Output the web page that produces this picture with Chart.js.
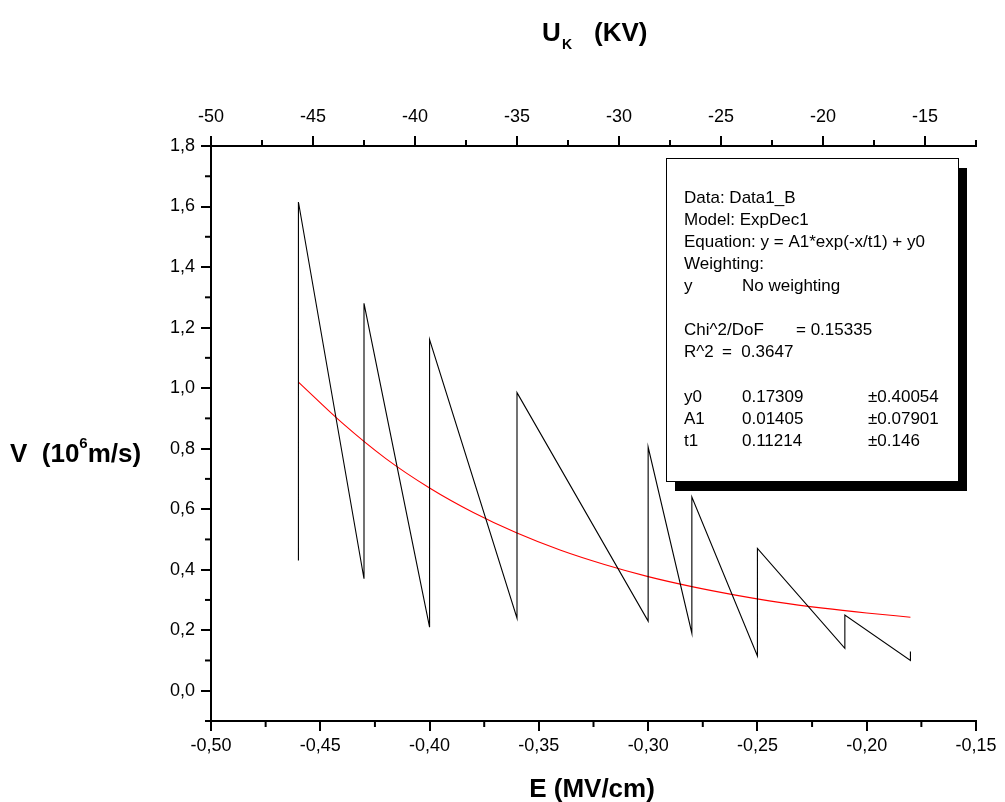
<!DOCTYPE html>
<html>
<head>
<meta charset="utf-8">
<script src="https://cdn.jsdelivr.net/npm/chart.js@4.4.0/dist/chart.umd.min.js"></script>
<style>
  html, body { margin: 0; padding: 0; background: #fff; }
  #wrap { width: 1005px; height: 802px; }
</style>
</head>
<body>
<div id="wrap"><canvas id="chart" width="1005" height="802"></canvas></div>
<script>
const fieldE = [-0.46, -0.46, -0.43, -0.43, -0.40, -0.40, -0.36, -0.36, -0.30, -0.30,
                -0.28, -0.28, -0.25, -0.25, -0.21, -0.21, -0.18, -0.18];
const speedV = [0.43, 1.615, 0.37, 1.28, 0.21, 1.16, 0.24, 0.985, 0.23, 0.805,
                0.19, 0.64, 0.115, 0.47, 0.14, 0.25, 0.10, 0.13];

// --- red fit curve ---
const fitE = [-0.46, -0.44, -0.42, -0.40, -0.38, -0.36, -0.34, -0.32, -0.30, -0.28,
              -0.26, -0.24, -0.22, -0.20, -0.18];
const fitV = [1.02, 0.885, 0.767, 0.67, 0.589, 0.521, 0.464, 0.417, 0.377, 0.344,
              0.316, 0.292, 0.273, 0.257, 0.243];

// --- axis ticks ---
const eTicks = [-0.50, -0.45, -0.40, -0.35, -0.30, -0.25, -0.20, -0.15];
const uTicks = [-50, -45, -40, -35, -30, -25, -20, -15];
const vTicks = [0, 0.2, 0.4, 0.6, 0.8, 1.0, 1.2, 1.4, 1.6, 1.8];

// --- fit report text ---
const reportRows = [
    ['Data: Data1_B'],
    ['Model: ExpDec1'],
    ['Equation: y = A1*exp(-x/t1) + y0'],
    ['Weighting:'],
    ['y', 'No weighting'],
    [],
    ['Chi^2/DoF', '= 0.15335'],
    ['R^2', '=  0.3647'],
    [],
    ['y0', '0.17309', '±0.40054'],
    ['A1', '0.01405', '±0.07901'],
    ['t1', '0.11214', '±0.146']
];

const FONT = "'Liberation Sans', Arial, sans-serif";
const comma = (v, d) => v.toFixed(d).replace('.', ',');

const pts = (xs, ys) => xs.map((x, i) => ({ x: x, y: ys[i] }));
const useTicks = arr => scale => { scale.ticks = arr.map(v => ({ value: v })); };

// minor ticks + titles + fit box
const extras = {
    id: 'extras',
    afterDraw(chart) {
        const c = chart.ctx;
        const { x, x2, y } = chart.scales;
        const area = chart.chartArea;

        // minor ticks between the major ones
        c.save();
        c.strokeStyle = '#000';
        c.lineWidth = 2;
        const minor = (arr, scale, draw) => {
            const step = arr[1] - arr[0];
            for (let v = arr[0] - step / 2; v <= scale.max + 1e-9; v += step) {
                if (v < scale.min - 1e-9) continue;
                draw(scale.getPixelForValue(v));
            }
        };
        minor(eTicks, x, px => { c.beginPath(); c.moveTo(px, area.bottom); c.lineTo(px, area.bottom + 6); c.stroke(); });
        minor(uTicks, x2, px => { c.beginPath(); c.moveTo(px, area.top); c.lineTo(px, area.top - 6); c.stroke(); });
        minor(vTicks, y, py => { c.beginPath(); c.moveTo(area.left, py); c.lineTo(area.left - 6, py); c.stroke(); });
        c.restore();

        // axis titles
        c.save();
        c.fillStyle = '#000';
        c.textBaseline = 'alphabetic';
        c.font = 'bold 26px ' + FONT;
        c.textAlign = 'center';
        c.fillText('E (MV/cm)', 592, 797);

        c.textAlign = 'left';
        c.fillText('U', 542, 41);
        c.font = 'bold 14px ' + FONT;
        c.fillText('K', 562, 49);
        c.font = 'bold 26px ' + FONT;
        c.fillText('(KV)', 594, 41);

        c.fillText('V  (10', 10, 462);
        let w = c.measureText('V  (10').width;
        c.font = 'bold 15px ' + FONT;
        c.fillText('6', 10 + w, 448);
        let w6 = c.measureText('6').width;
        c.font = 'bold 26px ' + FONT;
        c.fillText('m/s)', 10 + w + w6, 462);
        c.restore();

        // fit report box with shadow
        c.save();
        c.fillStyle = '#000';
        c.fillRect(675, 168, 292, 323);
        c.fillStyle = '#fff';
        c.fillRect(666, 158, 292, 323);
        c.strokeStyle = '#000';
        c.lineWidth = 1;
        c.strokeRect(666.5, 158.5, 292, 323);
        c.fillStyle = '#000';
        c.font = '17px ' + FONT;
        c.textBaseline = 'middle';
        c.textAlign = 'left';
        reportRows.forEach((row, i) => {
            const ty = 198 + i * 22.1;
            if (row[0]) c.fillText(row[0], 684, ty);
            if (row[1]) {
                const cx = row[0] === 'Chi^2/DoF' ? 796 : (row[0] === 'R^2' ? 722 : 742);
                c.fillText(row[1], cx, ty);
            }
            if (row[2]) c.fillText(row[2], 868, ty);
        });
        c.restore();
    }
};

const axisStyle = {
    border: { display: true, color: '#000', width: 2 },
    grid: { display: true, drawOnChartArea: false, drawTicks: true, tickLength: 10, color: '#000', lineWidth: 2 }
};

new Chart(document.getElementById('chart'), {
    type: 'scatter',
    data: {
        datasets: [
            {
                label: 'V',
                data: pts(fieldE, speedV),
                showLine: true,
                borderColor: '#000',
                borderWidth: 1.1,
                pointRadius: 0,
                tension: 0
            },
            {
                label: 'Fit',
                data: pts(fitE, fitV),
                showLine: true,
                borderColor: '#ff0000',
                borderWidth: 1.1,
                pointRadius: 0,
                cubicInterpolationMode: 'monotone'
            }
        ]
    },
    options: {
        responsive: false,
        animation: false,
        devicePixelRatio: 1,
        layout: { padding: { left: 0, right: 29, top: 0, bottom: 0 } },
        plugins: { legend: { display: false }, tooltip: { enabled: false } },
        scales: {
            x: {
                type: 'linear', position: 'bottom', min: -0.5, max: -0.15,
                afterBuildTicks: useTicks(eTicks),
                afterFit: s => { s.height = 81; },
                ticks: { color: '#000', font: { family: FONT, size: 18 }, padding: 4, maxRotation: 0,
                         callback: v => comma(v, 2) },
                ...axisStyle
            },
            x2: {
                type: 'linear', position: 'top', min: -50, max: -12.5,
                afterBuildTicks: useTicks(uTicks),
                afterFit: s => { s.height = 146; },
                ticks: { color: '#000', font: { family: FONT, size: 18 }, padding: 8, maxRotation: 0,
                         callback: v => String(v) },
                ...axisStyle
            },
            y: {
                type: 'linear', position: 'left', min: -0.1, max: 1.8,
                afterBuildTicks: useTicks(vTicks),
                afterFit: s => { s.width = 211; },
                ticks: { color: '#000', font: { family: FONT, size: 18 }, padding: 6,
                         callback: v => comma(v, 1) },
                ...axisStyle
            }
        }
    },
    plugins: [extras]
});
</script>
</body>
</html>
